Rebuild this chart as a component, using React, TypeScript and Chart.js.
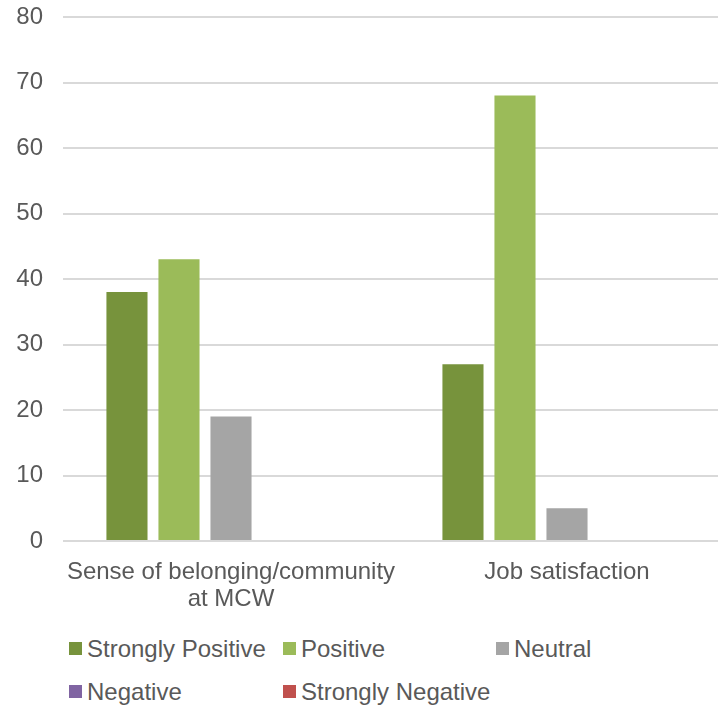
import React, { useEffect, useRef } from "react";
import { Chart, registerables } from "chart.js";

Chart.register(...registerables);

// ---- data ----
const categories: (string | string[])[] = [["Sense of belonging/community", "at MCW"], "Job satisfaction"];
const seriesNames = ["Strongly Positive", "Positive", "Neutral", "Negative", "Strongly Negative"];
const stronglyPositive = [38, 27];
const positive = [43, 68];
const neutral = [19, 5];
const negative = [0, 0];
const stronglyNegative = [0, 0];
const seriesColors = ["#77933C", "#9BBB59", "#A5A5A5", "#8064A2", "#C0504D"];
const yMin = 0;
const yMax = 80;
const yStep = 10;

const seriesValues = [stronglyPositive, positive, neutral, negative, stronglyNegative];

const FONT = "'Liberation Sans', Arial, Helvetica, sans-serif";
const TEXT = "#595959";

const legendRows = [[0, 1, 2], [3, 4]];
const legendCols = [69, 283, 496];
const legendRowCenters = [648.5, 691.5];

export default function App() {
  const ref = useRef<HTMLCanvasElement | null>(null);

  useEffect(() => {
    if (!ref.current) return;
    const chart = new Chart(ref.current, {
      type: "bar",
      data: {
        labels: categories as any,
        datasets: seriesNames.map((name, i) => ({
          label: name,
          data: seriesValues[i],
          backgroundColor: seriesColors[i],
          borderWidth: 0,
          categoryPercentage: 0.774,
          barPercentage: 0.79,
        })),
      },
      options: {
        responsive: false,
        animation: false,
        devicePixelRatio: 1,
        layout: { padding: { top: 17, right: 5, left: 0, bottom: 0 } },
        plugins: {
          legend: { display: false },
          tooltip: { enabled: false },
        },
        scales: {
          x: {
            grid: { display: false },
            border: { display: false },
            ticks: {
              color: TEXT,
              font: { family: FONT, size: 24, lineHeight: 1.12 },
              padding: 10,
              maxRotation: 0,
              autoSkip: false,
            },
            afterFit: (scale: any) => {
              scale.height = 79;
              scale.paddingLeft = 0;
              scale.paddingRight = 0;
            },
          },
          y: {
            min: yMin,
            max: yMax,
            grid: { color: "#D9D9D9", lineWidth: 2, drawTicks: false },
            border: { display: false },
            ticks: {
              stepSize: yStep,
              color: TEXT,
              font: { family: FONT, size: 24 },
              padding: 20,
            },
            afterFit: (scale: any) => {
              scale.width = 63;
              scale.paddingTop = 0;
              scale.paddingBottom = 0;
            },
          },
        },
      },
    });
    return () => chart.destroy();
  }, []);

  return (
    <div
      style={{
        position: "absolute",
        left: 0,
        top: 0,
        width: 718,
        height: 706,
        overflow: "hidden",
        background: "#fff",
      }}
    >
      <canvas ref={ref} width={740} height={620} style={{ display: "block", width: 740, height: 620 }} />
      {legendRows.map((row, r) =>
        row.map((si, c) => (
          <div
            key={si}
            style={{
              position: "absolute",
              left: legendCols[c],
              top: legendRowCenters[r] - 14,
              height: 28,
              display: "flex",
              alignItems: "center",
              fontFamily: FONT,
              fontSize: 24,
              lineHeight: "28px",
              color: TEXT,
              whiteSpace: "nowrap",
            }}
          >
            <span
              style={{
                display: "inline-block",
                width: 13,
                height: 13,
                background: seriesColors[si],
                marginRight: 5,
              }}
            />
            <span>{seriesNames[si]}</span>
          </div>
        ))
      )}
    </div>
  );
}
